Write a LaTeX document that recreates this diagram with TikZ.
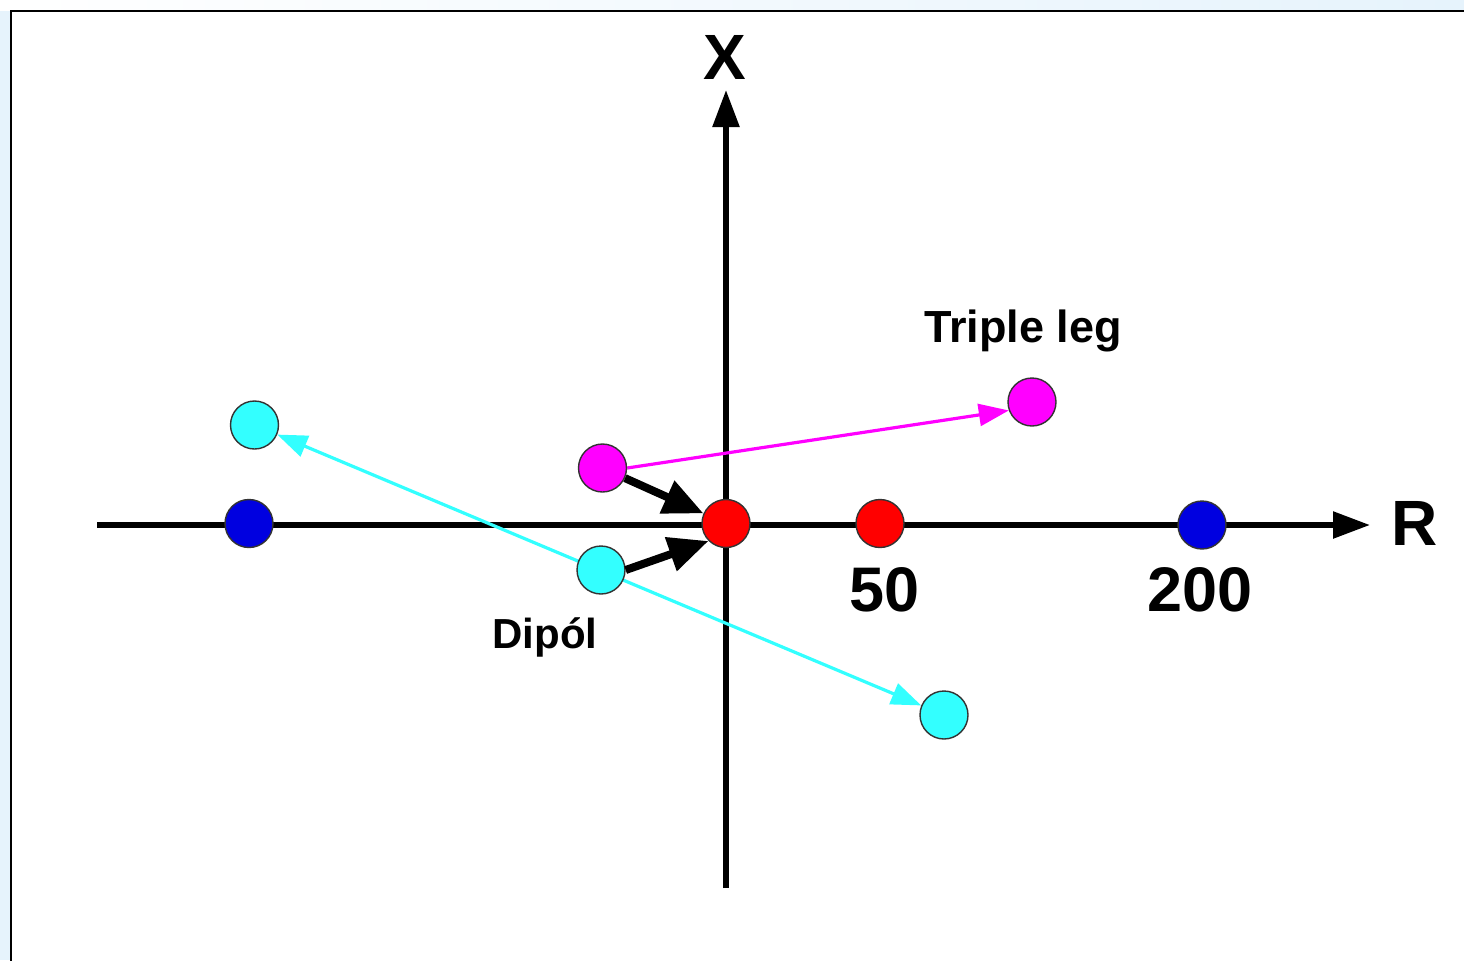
\documentclass[tikz,border=0pt]{standalone}
\usepackage{fontspec}
\setmainfont{Liberation Sans}
\usetikzlibrary{arrows.meta}
\pgfdeclarelayer{bg}
\pgfdeclarelayer{back}
\pgfsetlayers{bg,back,main}
\definecolor{paleblue}{HTML}{E6F3FC}
\definecolor{dotred}{HTML}{FF0000}
\definecolor{dotblue}{HTML}{0000E0}
\definecolor{dotcyan}{HTML}{33FFFF}
\definecolor{dotmag}{HTML}{FF00FF}
\begin{document}
\begin{tikzpicture}[x=0.5pt,y=-0.5pt,
  dot/.style={circle, minimum size=24pt, inner sep=0pt, draw=black!80, line width=0.7pt},
  reddot/.style={dot, fill=dotred},
  bluedot/.style={dot, fill=dotblue},
  cyandot/.style={dot, fill=dotcyan},
  magdot/.style={dot, fill=dotmag},
  axis/.style={line width=2.8pt, -{Triangle[length=18.5pt,width=13pt]}},
  bigarrow/.style={line width=4pt, -{Triangle[length=20pt,width=17pt]}},
  thinarrow/.style={line width=1.6pt, -{Triangle[length=15pt,width=11pt]}},
  bigtxt/.style={font=\bfseries\fontsize{32pt}{36pt}\selectfont, inner sep=0pt},
  numtxt/.style={font=\bfseries\fontsize{31.5pt}{34pt}\selectfont, inner sep=0pt},
  lbltxt/.style={font=\bfseries\fontsize{22.5pt}{26pt}\selectfont, inner sep=0pt}
]
\useasboundingbox (0,0) rectangle (1464,960);
\begin{pgfonlayer}{bg}
  \fill[paleblue] (0,0) rectangle (1464,960);
  \shade[left color=white, right color=paleblue] (0,0) rectangle (1464,10);
  \fill[white] (11,11) rectangle (1470,970);
  \draw[line width=1.4pt] (1470,11) -- (11,11) -- (11,970);
\end{pgfonlayer}

% axis end points
\coordinate (xl) at (97,525);
\coordinate (xr) at (1370,525);
\coordinate (yb) at (726,888);
\coordinate (yt) at (726,90);

% dots
\node[reddot]  (r1) at (726,523.5) {};
\node[reddot]  (r2) at (880,523.5) {};
\node[bluedot] (b1) at (249,523.5) {};
\node[bluedot] (b2) at (1202,525) {};
\node[cyandot] (c1) at (254.5,425) {};
\node[cyandot] (c2) at (601,570) {};
\node[cyandot] (c3) at (944,715) {};
\node[magdot]  (m1) at (602.5,468) {};
\node[magdot]  (m2) at (1032,402) {};

\begin{pgfonlayer}{back}
  \draw[axis] (xl) -- (xr);
  \draw[axis] (yb) -- (yt);
  \draw[thinarrow, draw=dotmag, fill=dotmag] (m1.east) -- (m2.200);
  \draw[thinarrow, {Triangle[length=15pt,width=11pt]}-{Triangle[length=15pt,width=11pt]}, draw=dotcyan, fill=dotcyan] (c1) -- (c3);
\end{pgfonlayer}

\draw[bigarrow] (m1) -- (r1);
\draw[bigarrow] (c2.east) -- (r1.225);

% labels
\node[bigtxt, anchor=base] (lx) at (725,79) {X};
\node[bigtxt, anchor=base west] (lr) at (1391,545) {R};
\node[numtxt, anchor=base] (l50) at (885,611) {50};
\node[numtxt, anchor=base] (l200) at (1200,611) {200};
\node[lbltxt, anchor=base] (ltl) at (1023,342) {Triple leg};
\node[lbltxt, font=\bfseries\fontsize{21pt}{24pt}\selectfont, anchor=base] (ldp) at (545,648) {Dipól};
\end{tikzpicture}
\end{document}
